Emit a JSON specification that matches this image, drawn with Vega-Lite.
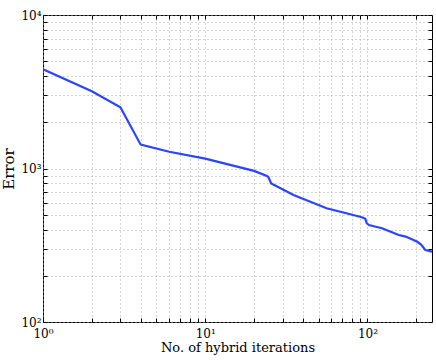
{
  "$schema": "https://vega.github.io/schema/vega-lite/v6.json",
  "width": 389,
  "height": 307,
  "autosize": {"type": "none"},
  "padding": {"left": 43, "top": 15, "right": 4, "bottom": 38},
  "background": "white",
  "config": {
    "view": {"stroke": "#000000", "strokeWidth": 1},
    "font": "DejaVu Serif",
    "axis": {
      "labelFont": "DejaVu Serif",
      "titleFont": "DejaVu Serif",
      "labelFontSize": 12,
      "titleFontSize": 13,
      "titleFontWeight": "normal",
      "labelColor": "#000000",
      "titleColor": "#000000",
      "domain": false,
      "tickColor": "#000000",
      "tickSize": -4,
      "tickWidth": 1,
      "gridColor": "#a8a8a8",
      "gridDash": [1, 3],
      "gridWidth": 1
    }
  },
  "data": {
    "values": [
      {"x": 1, "y": 4430},
      {"x": 2, "y": 3185},
      {"x": 3, "y": 2505},
      {"x": 4, "y": 1430},
      {"x": 6, "y": 1286},
      {"x": 10, "y": 1160},
      {"x": 20, "y": 965},
      {"x": 24, "y": 894},
      {"x": 24.5, "y": 880},
      {"x": 25.5, "y": 800},
      {"x": 27, "y": 775},
      {"x": 35, "y": 672},
      {"x": 56, "y": 551},
      {"x": 90, "y": 485},
      {"x": 94, "y": 478},
      {"x": 97, "y": 470},
      {"x": 99, "y": 440},
      {"x": 102, "y": 428},
      {"x": 123, "y": 408},
      {"x": 139, "y": 387},
      {"x": 156, "y": 369},
      {"x": 172, "y": 360},
      {"x": 203, "y": 333},
      {"x": 215, "y": 318},
      {"x": 224, "y": 300},
      {"x": 228, "y": 294},
      {"x": 250, "y": 287}
    ]
  },
  "resolve": {"axis": {"x": "independent", "y": "independent"}},
  "layer": [
    {
      "mark": {"type": "line", "color": "#2a44ff", "strokeWidth": 2.2, "clip": true},
      "encoding": {
        "x": {
          "field": "x", "type": "quantitative",
          "scale": {"type": "log", "domain": [1, 250], "nice": false},
          "axis": {
            "orient": "bottom",
            "title": "No. of hybrid iterations",
            "titlePadding": 2,
            "values": [1,2,3,4,5,6,7,8,9,10,20,30,40,50,60,70,80,90,100,200],
            "labelExpr": "datum.value==1?'10⁰':datum.value==10?'10¹':datum.value==100?'10²':''",
            "labelPadding": 10,
            "labelFlush": false,
            "labelOverlap": false,
            "grid": true
          }
        },
        "y": {
          "field": "y", "type": "quantitative",
          "scale": {"type": "log", "domain": [100, 10000], "nice": false},
          "axis": {
            "orient": "left",
            "title": "Error",
            "titleFontSize": 15,
            "titlePadding": 4,
            "values": [100,200,300,400,500,600,700,800,900,1000,2000,3000,4000,5000,6000,7000,8000,9000,10000],
            "labelExpr": "datum.value==100?'10²':datum.value==1000?'10³':datum.value==10000?'10⁴':''",
            "labelPadding": 6,
            "labelFlush": false,
            "labelOverlap": false,
            "grid": true
          }
        }
      }
    },
    {
      "mark": {"type": "line", "opacity": 0},
      "encoding": {
        "x": {
          "field": "x", "type": "quantitative",
          "scale": {"type": "log", "domain": [1, 250], "nice": false},
          "axis": {
            "orient": "top", "title": null, "labels": false, "grid": false,
            "values": [1,2,3,4,5,6,7,8,9,10,20,30,40,50,60,70,80,90,100,200]
          }
        },
        "y": {
          "field": "y", "type": "quantitative",
          "scale": {"type": "log", "domain": [100, 10000], "nice": false},
          "axis": {
            "orient": "right", "title": null, "labels": false, "grid": false,
            "values": [100,200,300,400,500,600,700,800,900,1000,2000,3000,4000,5000,6000,7000,8000,9000,10000]
          }
        }
      }
    }
  ]
}
